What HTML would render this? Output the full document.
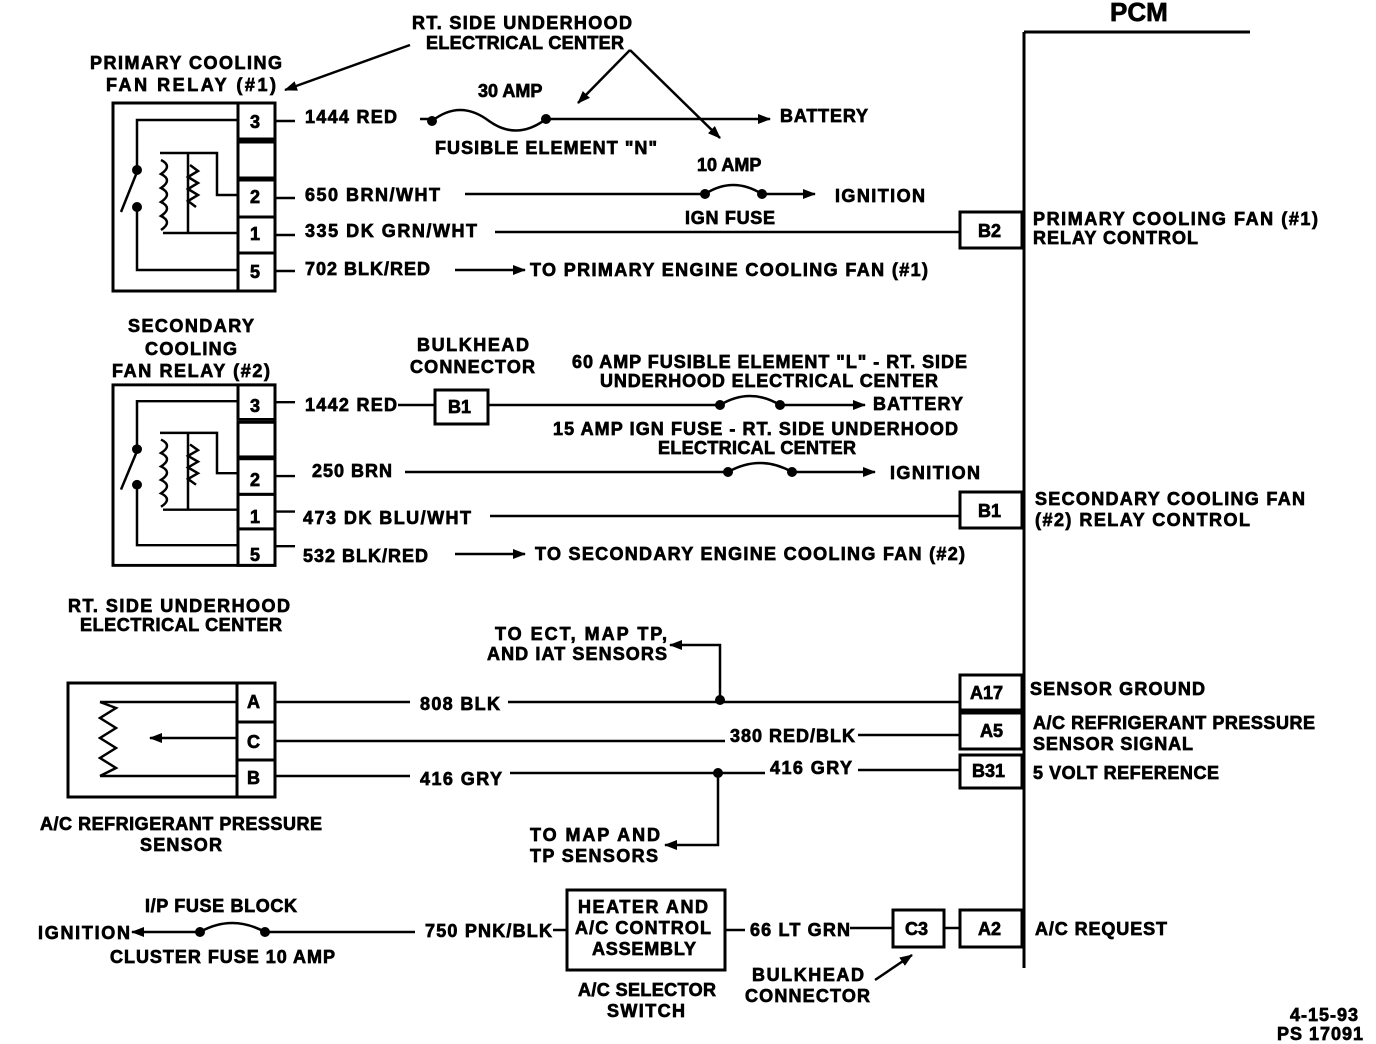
<!DOCTYPE html>
<html><head><style>body{margin:0;background:#fff}svg{display:block}text{font-family:"Liberation Sans",sans-serif;font-weight:bold;font-size:18px;fill:#000;stroke:#000;stroke-width:0.7;dominant-baseline:central}</style></head><body>
<svg width="1376" height="1044" viewBox="0 0 1376 1044" xmlns="http://www.w3.org/2000/svg">
<defs>
<marker id="ar" markerWidth="13" markerHeight="10" refX="12" refY="5" orient="auto" markerUnits="userSpaceOnUse"><path d="M0,0 L13,5 L0,10 Z" fill="#000"/></marker>
<g id="relay">
<rect x="113" y="103" width="162" height="188" fill="none" stroke="#000" stroke-width="3"/>
<rect x="238" y="103" width="37" height="36" fill="none" stroke="#000" stroke-width="3"/>
<rect x="238" y="142" width="37" height="36" fill="none" stroke="#000" stroke-width="3"/>
<rect x="238" y="180" width="37" height="37" fill="none" stroke="#000" stroke-width="3"/>
<rect x="238" y="217" width="37" height="36" fill="none" stroke="#000" stroke-width="3"/>
<rect x="238" y="253" width="37" height="38" fill="none" stroke="#000" stroke-width="3"/>
<path d="M238,120 H137 V168 M137,207 V270 H238 M160,153 H217 V195 H238 M163,233 H238 M188,153 V233" fill="none" stroke="#000" stroke-width="2.5"/>
<path d="M161,160 q12,6 0,14 q12,6 0,14 q12,6 0,14 q12,6 0,14 q12,6 0,14 M190,165 l8,6 l-10,6 l10,6 l-10,6 l10,6 l-10,6 l8,6" fill="none" stroke="#000" stroke-width="2.5"/>
<circle cx="137" cy="170" r="5"/><circle cx="137" cy="207" r="5"/>
<path d="M137,172 L121,212" stroke="#000" stroke-width="2.5"/>
<path d="M275,121 H295 M275,198 H295 M275,235 H295 M275,271 H295" stroke="#000" stroke-width="2.5"/>
</g>
</defs>
<g stroke="#000" stroke-width="3" fill="none">
<path d="M1024,32 V968 M1024,32 H1250"/>
</g>
<text x="1110" y="12" style="font-size:26px">PCM</text>
<use href="#relay"/>
<g transform="translate(0,286) scale(1,0.96)"><use href="#relay"/></g>
<g fill="none" stroke="#000" stroke-width="3">
<rect x="960" y="212" width="62" height="36"/>
<rect x="960" y="492" width="62" height="36"/>
<rect x="960" y="675" width="62" height="35"/>
<rect x="960" y="713" width="62" height="36"/>
<rect x="960" y="755" width="62" height="33"/>
<rect x="960" y="910" width="62" height="37"/>
<rect x="893" y="910" width="51" height="37"/>
<rect x="435" y="390" width="53" height="34"/>
<rect x="567" y="890" width="158" height="80"/>
<rect x="68" y="683" width="207" height="114"/>
<path d="M237,683 V797 M237,722 H275 M237,760 H275"/>
</g>
<g fill="none" stroke="#000" stroke-width="2.5">
<path d="M237,702 H100 M237,776 H100 M100,702 l16,6 l-16,10 l16,10 l-16,10 l16,10 l-16,10 l16,10 l-16,8"/>
<path d="M237,738 H150" marker-end="url(#ar)"/>
<path d="M420,119 H432 M546,119 H770" marker-end="url(#ar)"/>
<path d="M432,121 q28,-22 57,0 q28,20 57,-2"/>
<path d="M465,194 H705 M762,194 H815" marker-end="url(#ar)"/>
<path d="M705,194 q28,-18 57,0"/>
<path d="M495,232 H960"/>
<path d="M455,270 H525" marker-end="url(#ar)"/>
<path d="M398,405 H435"/>
<path d="M488,405 H720 M780,405 H865" marker-end="url(#ar)"/>
<path d="M720,405 q30,-18 60,0"/>
<path d="M405,472 H728 M792,472 H875" marker-end="url(#ar)"/>
<path d="M728,472 q32,-18 64,0"/>
<path d="M490,516 H960"/>
<path d="M455,554 H525" marker-end="url(#ar)"/>
<path d="M275,702 H410 M508,702 H960"/>
<path d="M720,700 V645 H670" marker-end="url(#ar)"/>
<path d="M275,741 H725 M858,735 H960"/>
<path d="M275,776 H410 M510,773 H765 M858,770 H960"/>
<path d="M718,773 V845 H665" marker-end="url(#ar)"/>
<path d="M415,932 H265 M200,932 H132" marker-end="url(#ar)"/>
<path d="M200,932 q32,-18 65,0"/>
<path d="M553,930 H567 M725,930 H745 M850,928 H893 M944,928 H960"/>
<path d="M875,980 L912,955" marker-end="url(#ar)"/>
<path d="M410,45 L285,90" marker-end="url(#ar)"/>
<path d="M630,50 L578,103" marker-end="url(#ar)"/>
<path d="M630,50 L720,138" marker-end="url(#ar)"/>
</g>
<g>
<circle cx="432" cy="121" r="5"/><circle cx="546" cy="119" r="5"/>
<circle cx="705" cy="194" r="5"/><circle cx="762" cy="194" r="5"/>
<circle cx="720" cy="405" r="5"/><circle cx="780" cy="405" r="5"/>
<circle cx="728" cy="472" r="5"/><circle cx="792" cy="472" r="5"/>
<circle cx="720" cy="700" r="5"/><circle cx="718" cy="773" r="5"/>
<circle cx="200" cy="932" r="5"/><circle cx="265" cy="932" r="5"/>
</g>
<text x="250" y="122">3</text><text x="250" y="197">2</text><text x="250" y="234">1</text><text x="250" y="272">5</text>
<text x="250" y="406">3</text><text x="250" y="480">2</text><text x="250" y="517">1</text><text x="250" y="555">5</text>
<text x="247" y="702">A</text><text x="247" y="742">C</text><text x="247" y="778">B</text>
<text x="412" y="23" textLength="220">RT. SIDE UNDERHOOD</text>
<text x="426" y="43" textLength="198">ELECTRICAL CENTER</text>
<text x="90" y="63" textLength="192">PRIMARY COOLING</text>
<text x="106" y="85" textLength="170">FAN RELAY (#1)</text>
<text x="478" y="91">30 AMP</text>
<text x="305" y="117" textLength="92">1444 RED</text>
<text x="780" y="116" textLength="88">BATTERY</text>
<text x="435" y="148" textLength="222">FUSIBLE ELEMENT "N"</text>
<text x="697" y="165">10 AMP</text>
<text x="305" y="195" textLength="135">650 BRN/WHT</text>
<text x="835" y="196" textLength="90">IGNITION</text>
<text x="685" y="218" textLength="90">IGN FUSE</text>
<text x="305" y="231" textLength="172">335 DK GRN/WHT</text>
<text x="978" y="231">B2</text>
<text x="1033" y="219" textLength="285">PRIMARY COOLING FAN (#1)</text>
<text x="1033" y="238" textLength="165">RELAY CONTROL</text>
<text x="305" y="269" textLength="125">702 BLK/RED</text>
<text x="530" y="270" textLength="398">TO PRIMARY ENGINE COOLING FAN (#1)</text>
<text x="128" y="326" textLength="126">SECONDARY</text>
<text x="145" y="349" textLength="92">COOLING</text>
<text x="112" y="371" textLength="158">FAN RELAY (#2)</text>
<text x="417" y="345" textLength="112">BULKHEAD</text>
<text x="410" y="367" textLength="125">CONNECTOR</text>
<text x="572" y="362" textLength="395">60 AMP FUSIBLE ELEMENT "L" - RT. SIDE</text>
<text x="600" y="381" textLength="338">UNDERHOOD ELECTRICAL CENTER</text>
<text x="305" y="405" textLength="92">1442 RED</text>
<text x="448" y="407">B1</text>
<text x="873" y="404" textLength="90">BATTERY</text>
<text x="553" y="429" textLength="405">15 AMP IGN FUSE - RT. SIDE UNDERHOOD</text>
<text x="658" y="448" textLength="198">ELECTRICAL CENTER</text>
<text x="312" y="471" textLength="80">250 BRN</text>
<text x="890" y="473" textLength="90">IGNITION</text>
<text x="303" y="518" textLength="168">473 DK BLU/WHT</text>
<text x="978" y="511">B1</text>
<text x="1035" y="499" textLength="270">SECONDARY COOLING FAN</text>
<text x="1035" y="520" textLength="215">(#2) RELAY CONTROL</text>
<text x="303" y="556" textLength="125">532 BLK/RED</text>
<text x="535" y="554" textLength="430">TO SECONDARY ENGINE COOLING FAN (#2)</text>
<text x="68" y="606" textLength="222">RT. SIDE UNDERHOOD</text>
<text x="80" y="625" textLength="202">ELECTRICAL CENTER</text>
<text x="495" y="634" textLength="172">TO ECT, MAP TP,</text>
<text x="487" y="654" textLength="180">AND IAT SENSORS</text>
<text x="420" y="704" textLength="80">808 BLK</text>
<text x="970" y="693">A17</text>
<text x="1030" y="689" textLength="175">SENSOR GROUND</text>
<text x="730" y="736" textLength="125">380 RED/BLK</text>
<text x="980" y="731">A5</text>
<text x="1033" y="723" textLength="282">A/C REFRIGERANT PRESSURE</text>
<text x="1033" y="744" textLength="160">SENSOR SIGNAL</text>
<text x="420" y="779" textLength="82">416 GRY</text>
<text x="770" y="768" textLength="82">416 GRY</text>
<text x="972" y="771">B31</text>
<text x="1033" y="773" textLength="186">5 VOLT REFERENCE</text>
<text x="40" y="824" textLength="282">A/C REFRIGERANT PRESSURE</text>
<text x="140" y="845" textLength="82">SENSOR</text>
<text x="530" y="835" textLength="130">TO MAP AND</text>
<text x="530" y="856" textLength="128">TP SENSORS</text>
<text x="145" y="906" textLength="152">I/P FUSE BLOCK</text>
<text x="38" y="933" textLength="92">IGNITION</text>
<text x="110" y="957" textLength="225">CLUSTER FUSE 10 AMP</text>
<text x="425" y="931" textLength="127">750 PNK/BLK</text>
<text x="578" y="907" textLength="130">HEATER AND</text>
<text x="575" y="928" textLength="136">A/C CONTROL</text>
<text x="592" y="949" textLength="104">ASSEMBLY</text>
<text x="750" y="930" textLength="100">66 LT GRN</text>
<text x="905" y="929">C3</text>
<text x="978" y="929">A2</text>
<text x="1035" y="929" textLength="132">A/C REQUEST</text>
<text x="752" y="975" textLength="112">BULKHEAD</text>
<text x="745" y="996" textLength="125">CONNECTOR</text>
<text x="578" y="990" textLength="138">A/C SELECTOR</text>
<text x="607" y="1011" textLength="78">SWITCH</text>
<text x="1290" y="1015" textLength="68">4-15-93</text>
<text x="1277" y="1034" textLength="86">PS 17091</text>
</svg>
</body></html>
